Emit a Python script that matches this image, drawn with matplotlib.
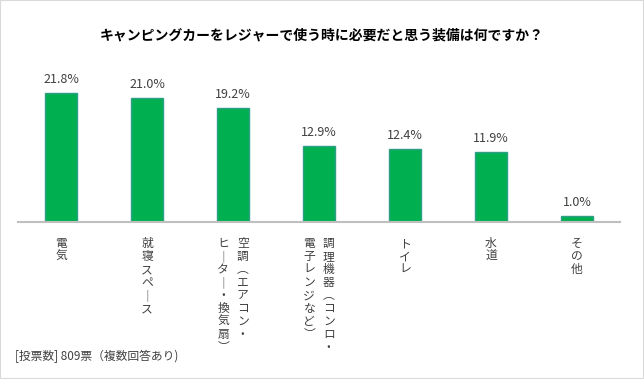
import matplotlib
matplotlib.use('Agg')
import matplotlib.pyplot as plt
from matplotlib.patches import Rectangle

plt.rcParams['font.family'] = ['Noto Sans CJK JP', 'DejaVu Sans']

title = "キャンピングカーをレジャーで使う時に必要だと思う装備は何ですか？"
categories = ["電気", "就寝スペース", "空調(エアコン・ヒーター・換気扇)",
              "調理機器(コンロ・電子レンジなど)", "トイレ", "水道", "その他"]
values = [21.8, 21.0, 19.2, 12.9, 12.4, 11.9, 1.0]
note = "[投票数] 809票（複数回答あり)"

# horizontal characters -> vertical presentation forms
VERT = {"(": "︵", ")": "︶", "ー": "｜"}


def columns(label):
    """Split a long label into vertical columns (right to left)."""
    if len(label) > 7 and "・" in label:
        k = label.index("・") + 1
        return [label[:k], label[k:]]
    return [label]


def vertical(s):
    return "\n".join(VERT.get(c, c) for c in s)


W, H = 644, 379
fig = plt.figure(figsize=(W / 100, H / 100), dpi=100)
ax = fig.add_axes([18 / W, (H - 222) / H, 602 / W, 148 / H])

x = range(len(values))
ax.bar(x, values, width=0.38, color='#00B050', edgecolor='#2E9E86', linewidth=1)
ax.set_xlim(-0.5, len(values) - 0.5)
ax.set_ylim(0, 25)

for s in ['top', 'right', 'left']:
    ax.spines[s].set_visible(False)
ax.spines['bottom'].set_color('#BFBFBF')
ax.spines['bottom'].set_linewidth(1.5)
ax.set_xticks([])
ax.set_yticks([])

for i, v in enumerate(values):
    ax.annotate(f"{v:.1f}%", xy=(i, v), xytext=(0, 5), textcoords='offset points',
                ha='center', va='bottom', fontsize=9, color='#404040')
    cols = columns(categories[i])
    n = len(cols)
    for j, col in enumerate(cols):
        dx = ((n - 1) / 2 - j) * 14
        ax.annotate(vertical(col), xy=(i, 0), xytext=(dx, -11),
                    textcoords='offset points', ha='center', va='top',
                    fontsize=8.5, color='#404040', linespacing=1.0)

fig.text(322 / W, 1 - 36 / H, title, ha='center', va='center',
         fontsize=10, fontweight='bold', color='#000000')
fig.text(15 / W, 1 - 356 / H, note, ha='left', va='center',
         fontsize=8.5, color='#404040')

fig.patches.append(Rectangle((0, 0), 1, 1, transform=fig.transFigure,
                             fill=False, edgecolor='#D9D9D9', linewidth=1.5))

fig.savefig('out.png', dpi=100)
